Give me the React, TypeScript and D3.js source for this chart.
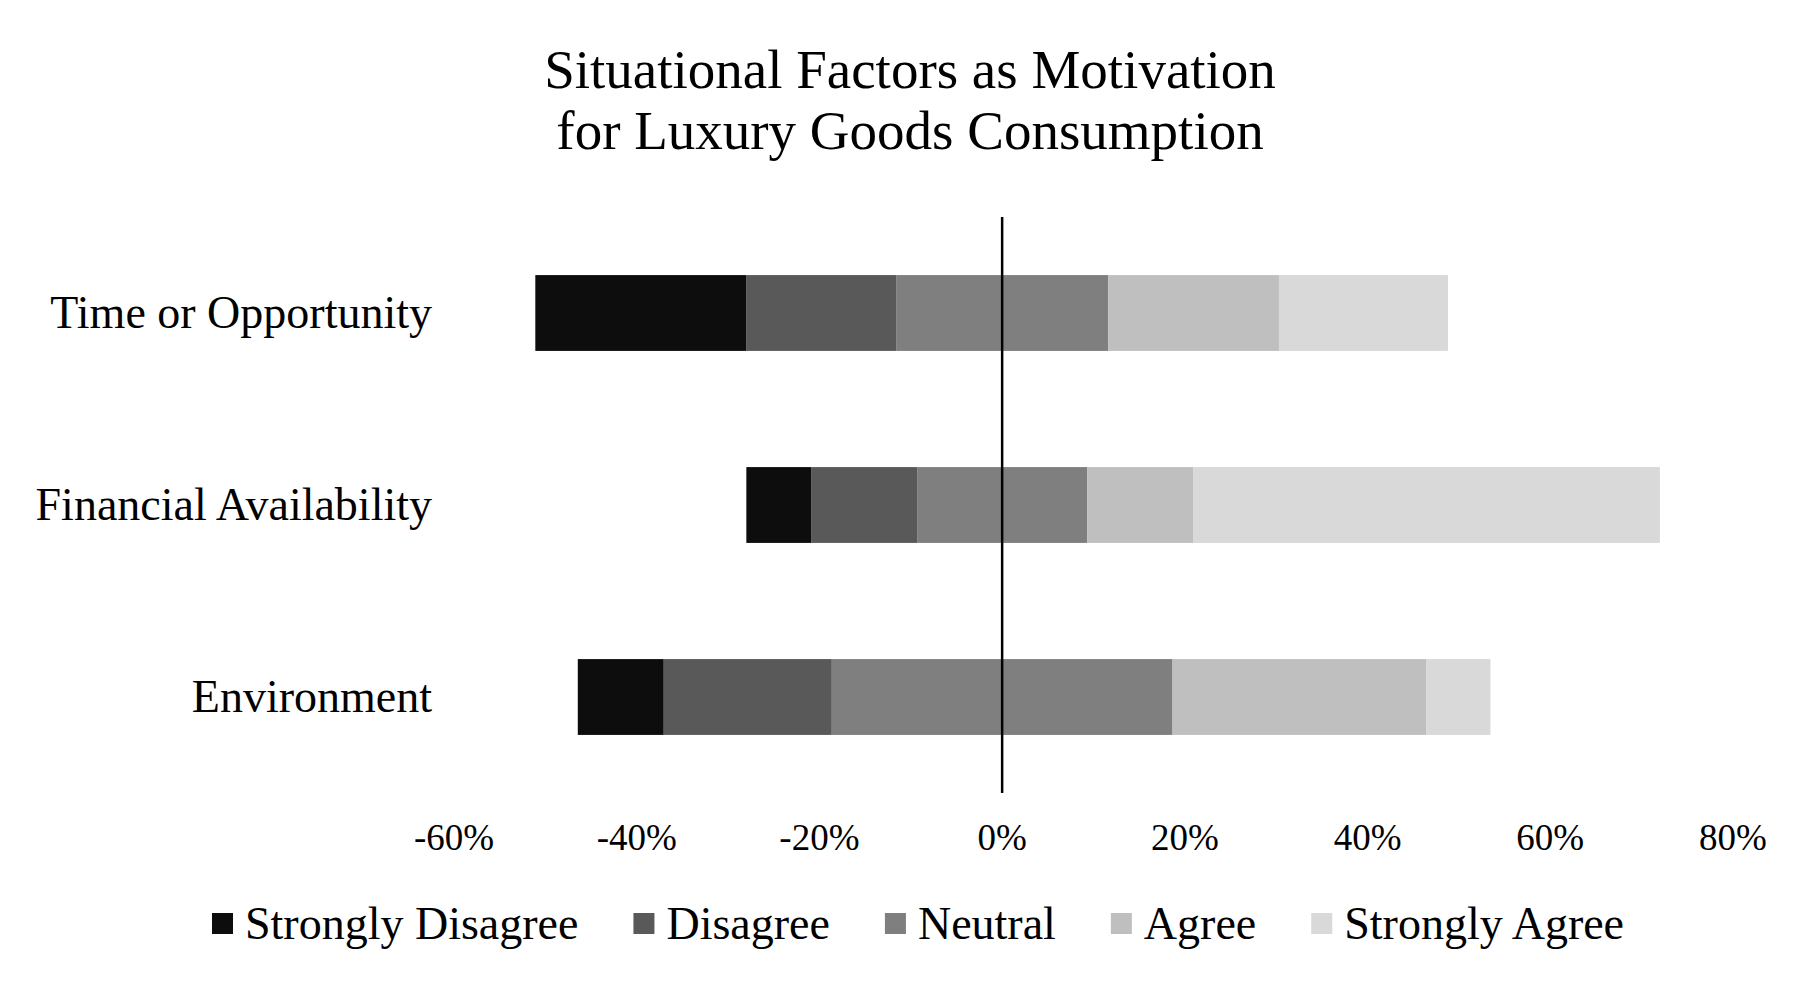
import React, { useEffect, useRef } from 'react';
import { select, scaleLinear, scaleBand } from 'd3';

// survey categories, top to bottom
const categories = ['Time or Opportunity', 'Financial Availability', 'Environment'];

// share of answers (%) per level, same order as categories
const stronglyDisagree = [23.1, 7.1, 9.4];
const disagree = [16.4, 11.6, 18.4];
const neutral = [23.2, 18.6, 37.3];
const agree = [18.7, 11.6, 27.8];
const stronglyAgree = [18.5, 51.1, 7.0];

const levels = ['Strongly Disagree', 'Disagree', 'Neutral', 'Agree', 'Strongly Agree'];
const levelColors = ['#0d0d0d', '#595959', '#7f7f7f', '#bfbfbf', '#d9d9d9'];

const xTicks = [-60, -40, -20, 0, 20, 40, 60, 80];

const FONT = '"Liberation Serif", "Times New Roman", serif';

const App = () => {
  const svgRef = useRef(null);

  useEffect(() => {
    const svg = select(svgRef.current);
    svg.selectAll('*').remove();

    const x = scaleLinear().domain([-60, 80]).range([454, 1733]);
    const y = scaleBand<string>()
      .domain(categories)
      .range([217, 793])
      .paddingInner(0.605)
      .paddingOuter(0.3025);

    // title
    const title = svg
      .append('text')
      .attr('text-anchor', 'middle')
      .attr('font-family', FONT)
      .attr('font-size', 55)
      .attr('fill', '#000');
    title.append('tspan').attr('x', 910).attr('y', 88).text('Situational Factors as Motivation');
    title.append('tspan').attr('x', 910).attr('y', 149).text('for Luxury Goods Consumption');

    // build diverging segments: neutral is split around zero
    categories.forEach((cat, i) => {
      const vals = [stronglyDisagree[i], disagree[i], neutral[i], agree[i], stronglyAgree[i]];
      const segs: { x0: number; x1: number; c: string }[] = [];
      let left = -vals[2] / 2;
      segs.push({ x0: left, x1: vals[2] / 2, c: levelColors[2] });
      segs.push({ x0: left - vals[1], x1: left, c: levelColors[1] });
      left -= vals[1];
      segs.push({ x0: left - vals[0], x1: left, c: levelColors[0] });
      let right = vals[2] / 2;
      segs.push({ x0: right, x1: right + vals[3], c: levelColors[3] });
      right += vals[3];
      segs.push({ x0: right, x1: right + vals[4], c: levelColors[4] });

      segs.forEach((s) => {
        svg
          .append('rect')
          .attr('x', x(s.x0))
          .attr('y', y(cat)!)
          .attr('width', x(s.x1) - x(s.x0))
          .attr('height', y.bandwidth())
          .attr('fill', s.c);
      });

      // category label
      svg
        .append('text')
        .attr('x', 432)
        .attr('y', y(cat)! + y.bandwidth() / 2 + 15)
        .attr('text-anchor', 'end')
        .attr('font-family', FONT)
        .attr('font-size', 46)
        .attr('fill', '#000')
        .text(cat);
    });

    // zero line
    svg
      .append('line')
      .attr('x1', x(0))
      .attr('x2', x(0))
      .attr('y1', 217)
      .attr('y2', 793)
      .attr('stroke', '#000')
      .attr('stroke-width', 2.5);

    // tick labels
    xTicks.forEach((t) => {
      svg
        .append('text')
        .attr('x', x(t))
        .attr('y', 850)
        .attr('text-anchor', 'middle')
        .attr('font-family', FONT)
        .attr('font-size', 37)
        .attr('fill', '#000')
        .text(`${t}%`);
    });

    // legend
    let lx = 212;
    levels.forEach((name, i) => {
      svg
        .append('rect')
        .attr('x', lx)
        .attr('y', 913)
        .attr('width', 21)
        .attr('height', 21)
        .attr('fill', levelColors[i]);
      const txt = svg
        .append('text')
        .attr('x', lx + 33)
        .attr('y', 939)
        .attr('font-family', FONT)
        .attr('font-size', 46)
        .attr('fill', '#000')
        .text(name);
      const w = (txt.node() as SVGTextElement).getComputedTextLength();
      lx += 33 + w + 55;
    });
  }, []);

  return (
    <svg
      ref={svgRef}
      width={1815}
      height={990}
      style={{ position: 'absolute', left: 0, top: 0, background: '#fff' }}
    ></svg>
  );
};

export default App;
